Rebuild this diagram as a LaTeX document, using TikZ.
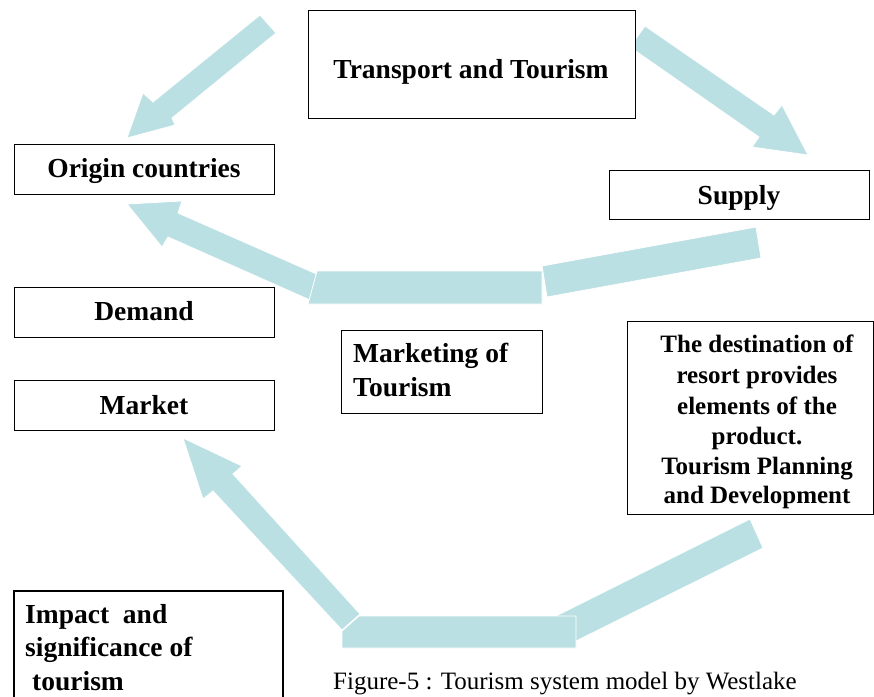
\documentclass[tikz,border=0pt]{standalone}
\usepackage{fontspec}
\setmainfont{Liberation Serif}
\definecolor{arrowblue}{RGB}{187,224,227}
\tikzset{
  box/.style={draw=black, line width=1.1pt, fill=white, inner sep=0pt, anchor=north west},
  lbl/.style={font=\fontsize{27.5}{33}\selectfont\bfseries, inner sep=0pt, anchor=base},
  lblleft/.style={lbl, anchor=base west},
  lblsm/.style={font=\fontsize{25}{30}\selectfont\bfseries, inner sep=0pt, anchor=base},
  captionstyle/.style={font=\fontsize{25}{30}\selectfont, inner sep=0pt, anchor=base west},
  blockarrow/.style={fill=arrowblue, draw=white, line width=0.8pt, line join=miter},
}
\begin{document}
\begin{tikzpicture}[x=1pt,y=-1pt]
\useasboundingbox (0,0) rectangle (874,696);

% ---- block arrows ----
% Transport -> Origin countries
\fill[blockarrow] (260,15) -- (153,102) -- (143,93) -- (127,138) -- (175,125) -- (172,118) -- (276,33) -- cycle;
% Transport -> Supply
\fill[blockarrow] (645,26) -- (774,115) -- (782,105) -- (808,155) -- (752,147) -- (759,137) -- (630,47) -- cycle;
% Supply -> Origin (via marketing)
\fill[blockarrow] (542,266) -- (756,227) -- (761,258) -- (547,297) -- cycle;
\fill[blockarrow] (321,276) -- (178,213) -- (182,201) -- (127,204) -- (162,247) -- (168,237) -- (310,300) -- cycle;
\fill[blockarrow] (317,271) -- (542,271) -- (542,304) -- (308,304) -- cycle;
% Destination -> Market
\fill[blockarrow] (750,519) -- (763,548) -- (570,644) -- (556,616) -- cycle;
\fill[blockarrow] (360,614) -- (233,474) -- (242,466) -- (183,438) -- (203,499) -- (213,491) -- (342,630) -- cycle;
\fill[blockarrow] (359,616) -- (576,616) -- (576,648) -- (342,648) -- (342,631) -- cycle;

% ---- boxes ----
\node[box, minimum width=327pt, minimum height=108pt] (transport) at (308,10) {};
\node[box, minimum width=260pt, minimum height=50pt] (origin) at (14,144) {};
\node[box, minimum width=260pt, minimum height=49pt] (supply) at (609,170) {};
\node[box, minimum width=260pt, minimum height=50pt] (demand) at (14,287) {};
\node[box, minimum width=260pt, minimum height=50pt] (market) at (14,380) {};
\node[box, minimum width=201pt, minimum height=83pt] (marketing) at (341,330) {};
\node[box, minimum width=246pt, minimum height=193pt] (destination) at (627,321) {};
\draw[draw=black, line width=1.1pt] (14,700) -- (14,591) -- (283,591) -- (283,700);

% ---- labels ----
\node[lbl] (transportT) at (471,78) {Transport and Tourism};
\node[lbl] (originT) at (144,177) {Origin countries};
\node[lbl] (supplyT) at (739,204) {Supply};
\node[lbl] (demandT) at (144,320) {Demand};
\node[lbl] (marketT) at (144,414) {Market};
\node[lblleft] (marketingA) at (353,362) {Marketing of};
\node[lblleft] (marketingB) at (353,396) {Tourism};
\node[lblsm] (destA) at (757,352) {The destination of};
\node[lblsm] (destB) at (757,383) {resort provides};
\node[lblsm] (destC) at (757,414) {elements of the};
\node[lblsm] (destD) at (757,444) {product.};
\node[lblsm] (destE) at (757,474) {Tourism Planning};
\node[lblsm] (destF) at (757,503) {and Development};
\node[lblleft] (impactA) at (25,623) {Impact\ \ and};
\node[lblleft] (impactB) at (25,656) {significance of};
\node[lblleft] (impactC) at (32,690) {tourism};
\node[captionstyle] (caption) at (333,689) {Figure-5 : Tourism system model by Westlake};
\end{tikzpicture}
\end{document}
